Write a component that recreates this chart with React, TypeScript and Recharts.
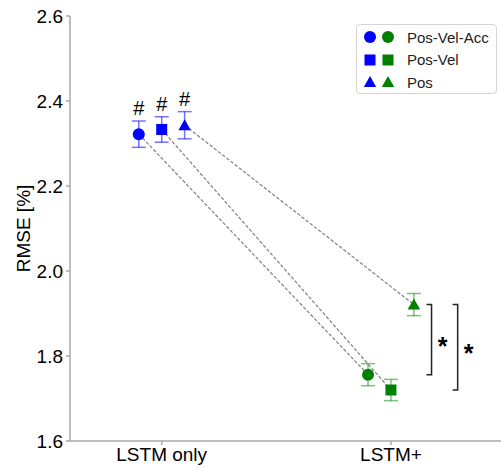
import React from 'react';
import { ComposedChart, Scatter, XAxis, YAxis, ErrorBar, Label } from 'recharts';

// values
const categories = ['LSTM only', 'LSTM+'];
const seriesNames = ['Pos-Vel-Acc', 'Pos-Vel', 'Pos'];
const seriesShapes = ['circle', 'square', 'triangle'];
const lstmOnlyRmse = [2.322, 2.333, 2.343];
const lstmOnlyErr = [0.031, 0.03, 0.032];
const lstmPlusRmse = [1.756, 1.72, 1.921];
const lstmPlusErr = [0.026, 0.025, 0.026];
const yTicks = [1.6, 1.8, 2.0, 2.2, 2.4, 2.6];
const hashLabels = ['#', '#', '#'];
// significance brackets at LSTM+ : [from series, to series]
const sigPairs = [
  [2, 0],
  [2, 1],
];
const sigLabels = ['*', '*'];

// layout
const SPREAD = 0.1;
const BRACKET_X = [1.177, 1.291];
const BRACKET_TICK = 0.022;
const STAR_DX = 0.048;

const BLUE = '#0000ff';
const GREEN = '#008000';
const AXIS = '#a8a8a8';
const FONT = '"Liberation Sans", Arial, sans-serif';

const onlyData = seriesNames.map((name, i) => ({
  name,
  x: 0 + (i - 1) * SPREAD,
  y: lstmOnlyRmse[i],
  err: lstmOnlyErr[i],
  shape: seriesShapes[i],
}));
const plusData = seriesNames.map((name, i) => ({
  name,
  x: 1 + (i - 1) * SPREAD,
  y: lstmPlusRmse[i],
  err: lstmPlusErr[i],
  shape: seriesShapes[i],
}));
const hashData = onlyData.map((d, i) => ({ x: d.x, y: d.y + d.err, label: hashLabels[i] }));

const bracketData = sigPairs.map(([a, b], k) => [
  { x: BRACKET_X[k] - BRACKET_TICK, y: lstmPlusRmse[a] },
  { x: BRACKET_X[k], y: lstmPlusRmse[a] },
  { x: BRACKET_X[k], y: lstmPlusRmse[b] },
  { x: BRACKET_X[k] - BRACKET_TICK, y: lstmPlusRmse[b] },
]);
const starData = sigPairs.map(([a, b], k) => ({
  x: BRACKET_X[k] + STAR_DX,
  y: (lstmPlusRmse[a] + lstmPlusRmse[b]) / 2,
  label: sigLabels[k],
}));

function Marker({ cx, cy, shape, fill }: { cx: number; cy: number; shape: string; fill: string }) {
  if (shape === 'circle') return <circle cx={cx} cy={cy} r={6} fill={fill} />;
  if (shape === 'square') return <rect x={cx - 5.5} y={cy - 5.5} width={11} height={11} fill={fill} />;
  return <polygon points={`${cx},${cy - 6} ${cx - 6.2},${cy + 5} ${cx + 6.2},${cy + 5}`} fill={fill} />;
}

const markerShape = (fill: string) => (props: any) =>
  <Marker cx={props.cx} cy={props.cy} shape={props.payload.shape} fill={fill} />;

const noShape = () => <g />;

function LegendBox() {
  return (
    <div
      style={{
        position: 'absolute',
        left: 356,
        top: 24,
        width: 141,
        height: 70,
        border: '1px solid #d4d4d4',
        borderRadius: 4,
        background: 'rgba(255,255,255,0.85)',
        fontFamily: FONT,
        fontSize: 15,
        paddingTop: 1,
        boxSizing: 'border-box',
      }}
    >
      {seriesNames.map((name, i) => (
        <div key={name} style={{ display: 'flex', alignItems: 'center', height: 22.5 }}>
          <svg width={44} height={22} style={{ flex: 'none' }}>
            <Marker cx={13} cy={11} shape={seriesShapes[i]} fill={BLUE} />
            <Marker cx={31} cy={11} shape={seriesShapes[i]} fill={GREEN} />
          </svg>
          <span style={{ marginLeft: 6, color: '#222' }}>{name}</span>
        </div>
      ))}
    </div>
  );
}

export default function App() {
  return (
    <div style={{ position: 'relative', width: 501, height: 470, background: '#fff' }}>
      <style>{'body{margin:0}'}</style>
      <ComposedChart width={501} height={470} margin={{ top: 16, right: 0, bottom: 0, left: 0 }}>
        <XAxis
          type="number"
          dataKey="x"
          domain={[-0.4, 1.48]}
          ticks={[0, 1]}
          tickFormatter={(v: number) => categories[v]}
          height={29}
          axisLine={{ stroke: AXIS, strokeWidth: 1.5 }}
          tickLine={{ stroke: AXIS, strokeWidth: 1.5 }}
          tickSize={4}
          tickMargin={3}
          tick={{ fill: '#000', fontSize: 19, fontFamily: FONT }}
          allowDataOverflow
        />
        <YAxis
          type="number"
          dataKey="y"
          domain={[1.6, 2.6]}
          ticks={yTicks}
          tickFormatter={(v: number) => v.toFixed(1)}
          width={70}
          axisLine={{ stroke: AXIS, strokeWidth: 1.5 }}
          tickLine={{ stroke: AXIS, strokeWidth: 1.5 }}
          tickSize={4}
          tickMargin={3}
          tick={{ fill: '#000', fontSize: 19, fontFamily: FONT }}
          allowDataOverflow
        >
          <Label
            content={(props: any) => {
              const vb = props.viewBox || { x: 0, y: 16, width: 70, height: 425 };
              const x = vb.x + 23;
              const y = vb.y + vb.height / 2;
              return (
                <text
                  x={x}
                  y={y}
                  transform={`rotate(-90 ${x} ${y})`}
                  textAnchor="middle"
                  dominantBaseline="central"
                  fontSize={19}
                  fontFamily={FONT}
                  fill="#000"
                >
                  RMSE [%]
                </text>
              );
            }}
          />
        </YAxis>

        {seriesNames.map((name, i) => (
          <Scatter
            key={`link-${name}`}
            data={[onlyData[i], plusData[i]]}
            line={{ stroke: '#808080', strokeWidth: 1.2, strokeDasharray: '3.5 1.8' }}
            shape={noShape}
            isAnimationActive={false}
          />
        ))}

        <Scatter data={onlyData} shape={markerShape(BLUE)} isAnimationActive={false}>
          <ErrorBar dataKey="err" direction="y" width={7} stroke={BLUE} strokeOpacity={0.55} strokeWidth={1.5} isAnimationActive={false} />
        </Scatter>
        <Scatter data={plusData} shape={markerShape(GREEN)} isAnimationActive={false}>
          <ErrorBar dataKey="err" direction="y" width={7} stroke={GREEN} strokeOpacity={0.5} strokeWidth={1.5} isAnimationActive={false} />
        </Scatter>

        <Scatter
          data={hashData}
          isAnimationActive={false}
          shape={(p: any) => (
            <text x={p.cx} y={p.cy - 6} textAnchor="middle" fontSize={20} fontFamily={FONT} fill="#000">
              {p.payload.label}
            </text>
          )}
        />

        {bracketData.map((pts, k) => (
          <Scatter
            key={`bracket-${k}`}
            data={pts}
            line={{ stroke: '#222', strokeWidth: 1.5 }}
            shape={noShape}
            isAnimationActive={false}
          />
        ))}
        <Scatter
          data={starData}
          isAnimationActive={false}
          shape={(p: any) => (
            <text x={p.cx} y={p.cy + 15} textAnchor="middle" fontSize={25} fontWeight="bold" fontFamily={FONT} fill="#000">
              {p.payload.label}
            </text>
          )}
        />
      </ComposedChart>
      <LegendBox />
    </div>
  );
}
